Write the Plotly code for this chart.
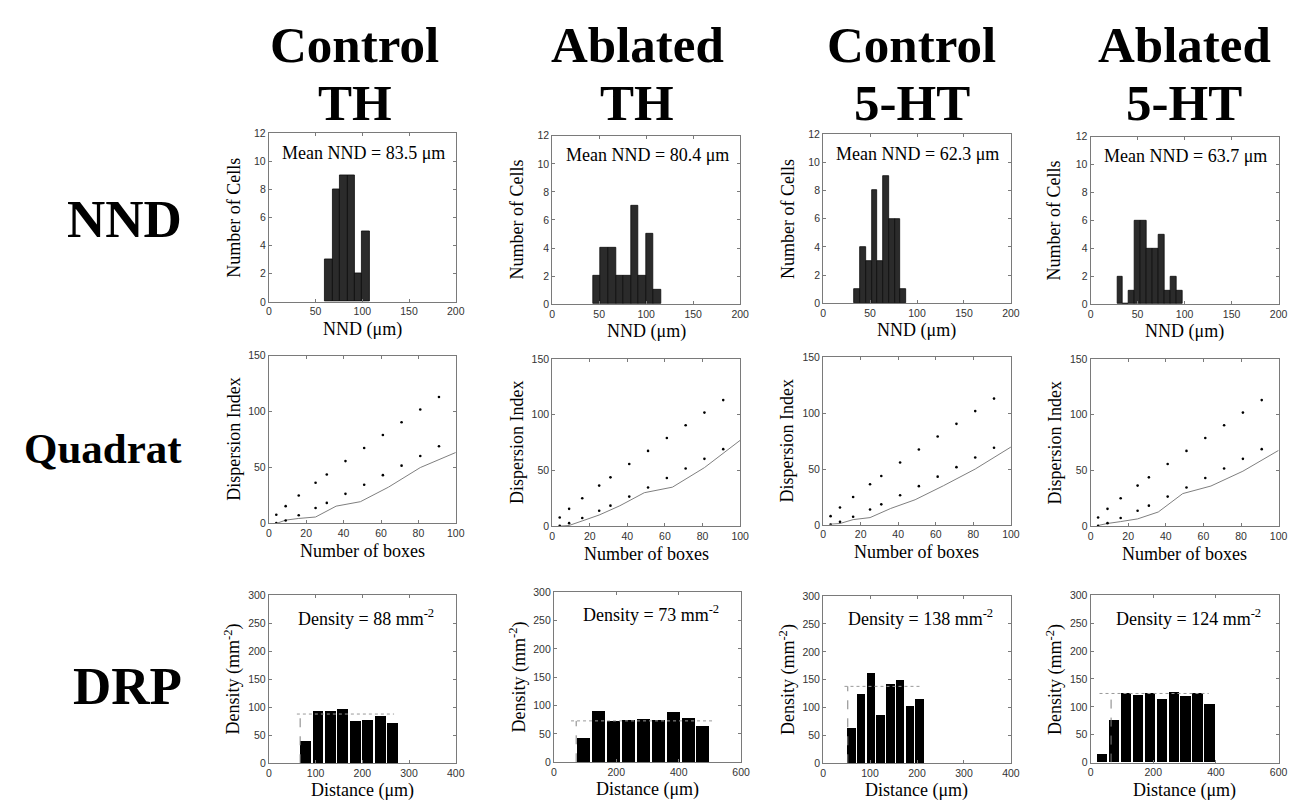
import plotly.graph_objects as go

W, H = 1302, 807

# ---------------- data ----------------
col_titles = [["Control", "TH"], ["Ablated", "TH"], ["Control", "5-HT"], ["Ablated", "5-HT"]]
row_titles = ["NND", "Quadrat", "DRP"]

# NND histograms (bin start, bin width, counts)
nnd_bin_start = [60.0, 43.6, 33.5, 28.2]
nnd_bin_width = [8.0, 8.0, 6.1, 6.33]
nnd_ctrl_th = [3, 8, 9, 9, 2, 5]
nnd_abl_th = [2, 4, 4, 2, 2, 7, 2, 5, 1]
nnd_ctrl_5ht = [1, 4, 3, 8, 3, 9, 6, 6, 1]
nnd_abl_5ht = [2, 0, 1, 6, 6, 4, 4, 5, 1, 2, 1]
nnd_mean = ["83.5", "80.4", "62.3", "63.7"]

# Quadrat analysis
quad_bound_boxes = [4, 9, 16, 25, 31, 41, 51, 61, 71, 81, 91]
quad_lower = [0.3, 2.7, 7.3, 13.8, 18.4, 26.5, 34.7, 43.2, 51.7, 60.4, 69.1]
quad_upper = [7.8, 15.5, 25.0, 36.4, 43.8, 55.8, 67.5, 79.1, 90.5, 101.9, 113.1]
quad_obs_boxes = [4, 9, 16, 25, 36, 49, 64, 81, 100]
quad_ctrl_th = [0.0, 3.0, 4.5, 5.8, 15.5, 19.5, 32.5, 50.0, 63.5]
quad_abl_th = [0.0, 0.6, 4.7, 10.0, 18.3, 30.0, 35.0, 52.5, 77.0]
quad_ctrl_5ht = [0.6, 1.2, 4.7, 6.5, 14.7, 22.5, 35.0, 50.0, 69.7]
quad_abl_5ht = [0.6, 2.4, 4.1, 6.5, 12.7, 29.2, 36.0, 49.3, 68.0]

# DRP (density recovery profile)
drp_bin_start = [65.0, 71.0, 50.0, 17.0]
drp_bin_width = [26.6, 47.8, 20.8, 38.0]
drp_ctrl_th = [39, 92, 93, 96, 74, 77, 83, 72]
drp_abl_th = [43, 90, 72, 75, 76, 74, 88, 77, 64]
drp_ctrl_5ht = [64, 124, 162, 87, 142, 150, 103, 116]
drp_abl_5ht = [15, 75, 124, 121, 124, 114, 126, 119, 124, 104]
drp_density = [88, 73, 138, 124]
drp_radius = [67.0, 71.5, 52.6, 65.4]
drp_line_span = [[60, 268], [55, 509], [45.6, 205.6], [28.5, 377]]
drp_xmax = [400, 600, 400, 600]

nnd_all = [nnd_ctrl_th, nnd_abl_th, nnd_ctrl_5ht, nnd_abl_5ht]
quad_all = [quad_ctrl_th, quad_abl_th, quad_ctrl_5ht, quad_abl_5ht]
drp_all = [drp_ctrl_th, drp_abl_th, drp_ctrl_5ht, drp_abl_5ht]

# ---------------- layout geometry (pixels) ----------------
col_x = [[268.3, 457.0], [554.3, 744.0], [827.7, 1017.3], [1097.7, 1287.5]]
panel_y = [
    [[129.3, 300.3], [131.7, 302.7], [130.0, 301.7], [132.7, 302.7]],
    [[355.0, 525.3], [358.3, 528.0], [356.7, 526.7], [358.3, 528.0]],
    [[598.3, 768.7], [595.0, 767.7], [599.0, 768.7], [598.3, 768.0]],
]

SERIF = "Liberation Serif"
SANS = "Liberation Sans"
AXC = "#7a7a7a"

fig = go.Figure()
layout = dict(
    width=W, height=H, margin=dict(l=0, r=0, t=0, b=0),
    paper_bgcolor="white", plot_bgcolor="white", showlegend=False,
    bargap=0,
)
annotations = []


def px(x):
    return x / W


def py(y):
    return 1 - y / H


def ann(text, x, y, size, bold=False, angle=0, xanchor="center", color="black"):
    annotations.append(dict(
        text=text, x=px(x), y=py(y), xref="paper", yref="paper",
        showarrow=False, xanchor=xanchor, yanchor="middle", textangle=angle,
        font=dict(family=SERIF, size=size, color=color, weight="bold" if bold else "normal"),
    ))


def axis_common(rng, ticks):
    return dict(
        range=rng, tickvals=ticks, ticktext=[str(t) for t in ticks],
        ticks="inside", ticklen=3, tickcolor=AXC, tickwidth=1,
        showline=True, linecolor=AXC, linewidth=1, mirror="ticks",
        showgrid=False, zeroline=False,
        tickfont=dict(family=SANS, size=10.5, color="#333333"),
        fixedrange=True,
    )


x_titles = ["NND (μm)", "Number of boxes", "Distance (μm)"]
y_titles = ["Number of Cells", "Dispersion Index", "Density (mm<sup>-2</sup>)"]

for r in range(3):
    for c in range(4):
        k = r * 4 + c + 1
        xs = "" if k == 1 else str(k)
        x0, x1 = col_x[c]
        y0, y1 = panel_y[r][c]
        if r == 2 and c == 1:
            x0, x1 = 556.0, 745.0
        if r == 0:
            xa = axis_common([0, 200], [0, 50, 100, 150, 200])
            ya = axis_common([0, 12], [0, 2, 4, 6, 8, 10, 12])
        elif r == 1:
            xa = axis_common([0, 100], [0, 20, 40, 60, 80, 100])
            ya = axis_common([0, 150], [0, 50, 100, 150])
        else:
            xm = drp_xmax[c]
            step = 100 if xm == 400 else 200
            xa = axis_common([0, xm], list(range(0, xm + 1, step)))
            ya = axis_common([0, 300], [0, 50, 100, 150, 200, 250, 300])
        xa.update(domain=[px(x0), px(x1)], anchor="y" + xs)
        ya.update(domain=[py(y1), py(y0)], anchor="x" + xs)
        layout["xaxis" + xs] = xa
        layout["yaxis" + xs] = ya

        xref, yref = "x" + xs, "y" + xs

        if r == 0:
            counts = nnd_all[c]
            bw = nnd_bin_width[c]
            centers = [nnd_bin_start[c] + bw * (i + 0.5) for i in range(len(counts))]
            fig.add_trace(go.Bar(
                x=centers, y=counts, width=bw, xaxis=xref, yaxis=yref,
                marker=dict(color="#2b2b2b", line=dict(color="#0d0d0d", width=0.8)),
            ))
            ann(f"Mean NND = {nnd_mean[c]} μm", (x0 + x1) / 2 + 1, y0 + 20, 18)
        elif r == 1:
            fig.add_trace(go.Scatter(
                x=quad_obs_boxes, y=quad_all[c], mode="lines", xaxis=xref, yaxis=yref,
                line=dict(color="#7f7f7f", width=1),
            ))
            for series in (quad_upper, quad_lower):
                fig.add_trace(go.Scatter(
                    x=quad_bound_boxes, y=series, mode="markers", xaxis=xref, yaxis=yref,
                    marker=dict(color="black", size=2.6),
                ))
        else:
            vals = drp_all[c]
            bw = drp_bin_width[c]
            centers = [drp_bin_start[c] + bw * (i + 0.5) for i in range(len(vals))]
            fig.add_trace(go.Scatter(
                x=drp_line_span[c], y=[drp_density[c], drp_density[c]], mode="lines",
                xaxis=xref, yaxis=yref, line=dict(color="#9a9a9a", width=1, dash="dot"),
            ))
            fig.add_trace(go.Scatter(
                x=[drp_radius[c], drp_radius[c]], y=[0, drp_density[c]], mode="lines",
                xaxis=xref, yaxis=yref, line=dict(color="#808080", width=1, dash="dash"),
            ))
            fig.add_trace(go.Bar(
                x=centers, y=vals, width=bw * 0.87, xaxis=xref, yaxis=yref,
                marker=dict(color="black", line=dict(width=0)),
            ))
            ann(f"Density = {drp_density[c]} mm<sup>-2</sup>", (x0 + x1) / 2 + 4, y0 + 22, 18)

        # axis titles
        ann(x_titles[r], (x0 + x1) / 2, y1 + 28, 18)
        ann(y_titles[r], x0 - 36, (y0 + y1) / 2, 18, angle=-90)

# column titles
col_cx = [355, 640, 917, 1192]
for c in range(4):
    ann(col_titles[c][0], col_cx[c], 40, 51, bold=True)
    ann(col_titles[c][1], col_cx[c], 98, 51, bold=True)

# row titles
row_y = [216, 449, 690]
row_size = [53, 43, 53]
for r in range(3):
    ann(row_titles[r], 183, row_y[r], row_size[r], bold=True, xanchor="right")

layout["annotations"] = annotations
fig.update_layout(**layout)
fig.write_html("out.html")
